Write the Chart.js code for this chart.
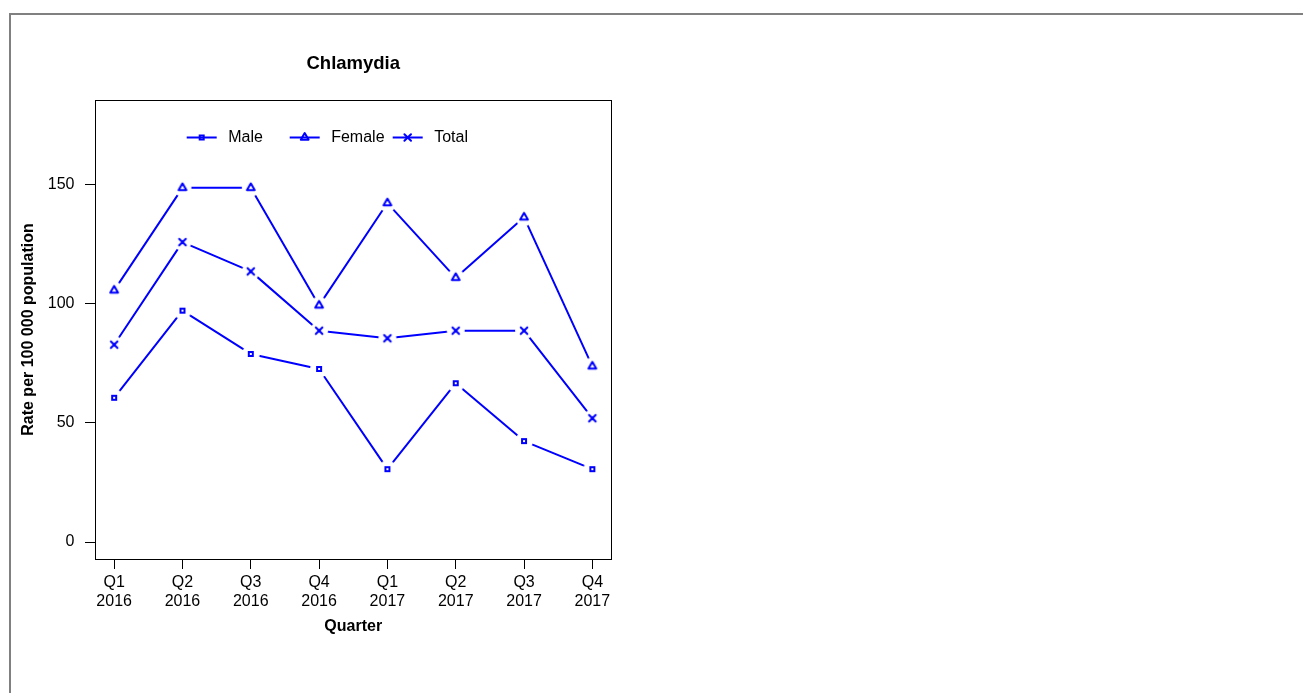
<!DOCTYPE html>
<html>
<head>
<meta charset="utf-8">
<script src="https://cdn.jsdelivr.net/npm/chart.js@4"></script>
<style>
html,body{margin:0;padding:0;background:#fff;overflow:hidden;}
#frame{position:absolute;left:9px;top:13px;width:2000px;height:2000px;border-left:2px solid #808080;border-top:2px solid #808080;}
#c{position:absolute;left:0;top:0;}
</style>
</head>
<body>
<div id="frame"></div>
<canvas id="c" width="707" height="693" style="width:707px;height:693px"></canvas>
<script>
const quarters = ['Q1', 'Q2', 'Q3', 'Q4', 'Q1', 'Q2', 'Q3', 'Q4'];
const years = ['2016', '2016', '2016', '2016', '2017', '2017', '2017', '2017'];
const male = [60.6, 97.2, 79.0, 72.7, 30.6, 66.7, 42.4, 30.6];
const female = [105.7, 148.8, 148.8, 99.4, 142.4, 111.0, 136.4, 73.8];
const total = [82.9, 126.0, 113.7, 88.8, 85.6, 88.8, 88.8, 52.0];
const yTicks = [0, 50, 100, 150];
const seriesNames = ['Male', 'Female', 'Total'];
const seriesMarkers = ['square', 'triangle', 'cross'];

const BLUE = '#0000ff';
const FONT = "'Liberation Sans', Arial, sans-serif";

function drawMarker(g, type, x, y) {
  g.save();
  g.strokeStyle = BLUE;
  g.lineWidth = 2;
  g.beginPath();
  if (type === 'square') {
    g.lineJoin = 'miter';
    g.rect(x - 2, y - 2, 4, 4);
  } else if (type === 'triangle') {
    g.lineJoin = 'round';
    const r = 4.5;
    g.moveTo(x, y - r);
    g.lineTo(x + 0.866 * r, y + r / 2);
    g.lineTo(x - 0.866 * r, y + r / 2);
    g.closePath();
  } else {
    g.lineCap = 'round';
    const d = 3.3;
    g.moveTo(x - d, y - d); g.lineTo(x + d, y + d);
    g.moveTo(x + d, y - d); g.lineTo(x - d, y + d);
  }
  g.stroke();
  g.restore();
}

function markerCanvas(type) {
  const c = document.createElement('canvas');
  c.width = 22; c.height = 22;
  const g = c.getContext('2d');
  g.fillStyle = '#fff';
  g.beginPath(); g.arc(11, 11, 9, 0, Math.PI * 2); g.fill();
  drawMarker(g, type, 11, 11);
  return c;
}

const seriesValues = [male, female, total];
const datasets = seriesValues.map((vals, s) => ({
  label: seriesNames[s],
  marker: seriesMarkers[s],
  data: vals.map((v, i) => ({x: i + 1, y: v})),
  borderColor: BLUE,
  borderWidth: 2,
  tension: 0,
  fill: false,
  borderCapStyle: 'round',
  borderJoinStyle: 'round',
  pointStyle: markerCanvas(seriesMarkers[s]),
  pointRadius: 9,
  pointHoverRadius: 9
}));

const boxPlugin = {
  id: 'box',
  afterDraw(chart) {
    const {ctx, chartArea: a} = chart;
    ctx.save();
    ctx.strokeStyle = '#000';
    ctx.lineWidth = 1;
    const l = Math.floor(a.left) + 0.5, t = Math.floor(a.top) + 0.5;
    const r = Math.floor(a.right) + 0.5, b = Math.floor(a.bottom) + 0.5;
    ctx.strokeRect(l, t, r - l, b - t);
    ctx.restore();
  }
};

const legendPlugin = {
  id: 'rlegend',
  afterDraw(chart) {
    const {ctx, chartArea: a} = chart;
    const y = a.top + 37.5;
    chart.data.datasets.forEach((ds, i) => {
      const x0 = a.left + 91.7 + 103 * i;
      ctx.save();
      ctx.strokeStyle = ds.borderColor;
      ctx.lineWidth = 2;
      ctx.beginPath(); ctx.moveTo(x0, y); ctx.lineTo(x0 + 30, y); ctx.stroke();
      drawMarker(ctx, ds.marker, x0 + 15, y);
      ctx.fillStyle = '#000';
      ctx.font = '16px ' + FONT;
      ctx.textBaseline = 'middle';
      ctx.textAlign = 'left';
      ctx.fillText(ds.label, x0 + 41.5, y);
      ctx.restore();
    });
  }
};

new Chart(document.getElementById('c'), {
  type: 'line',
  data: {datasets},
  plugins: [boxPlugin, legendPlugin],
  options: {
    responsive: false,
    animation: false,
    events: [],
    layout: {padding: {left: 0, right: 95.5, top: 0, bottom: 0}},
    plugins: {
      legend: {display: false},
      tooltip: {enabled: false},
      title: {
        display: true,
        text: 'Chlamydia',
        fullSize: false,
        color: '#000',
        font: {family: FONT, size: 18.5, weight: 'bold'},
        padding: {top: 52.4, bottom: 25.4}
      }
    },
    scales: {
      x: {
        type: 'linear',
        min: 0.72,
        max: 8.28,
        afterBuildTicks: s => { s.ticks = quarters.map((q, i) => ({value: i + 1})); },
        afterFit: s => { s.height = 134; },
        ticks: {
          autoSkip: false,
          maxRotation: 0,
          minRotation: 0,
          padding: 4,
          color: '#000',
          font: {family: FONT, size: 16},
          callback: (v, i) => [quarters[i], years[i]]
        },
        grid: {display: true, drawOnChartArea: false, drawTicks: true, tickLength: 10, color: '#000', lineWidth: 1},
        border: {display: false},
        title: {
          display: true,
          text: 'Quarter',
          color: '#000',
          font: {family: FONT, size: 16, weight: 'bold'},
          padding: {top: 0, bottom: 56.4}
        }
      },
      y: {
        type: 'linear',
        min: -7.14,
        max: 185.7,
        afterBuildTicks: s => { s.ticks = yTicks.map(v => ({value: v})); },
        afterFit: s => { s.width = 95; },
        ticks: {
          padding: 10.5,
          color: '#000',
          font: {family: FONT, size: 16}
        },
        grid: {display: true, drawOnChartArea: false, drawTicks: true, tickLength: 10, color: '#000', lineWidth: 1},
        border: {display: false},
        title: {
          display: true,
          text: 'Rate per 100 000 population',
          color: '#000',
          font: {family: FONT, size: 16, weight: 'bold'},
          padding: {top: 18.9, bottom: 0}
        }
      }
    }
  }
});
</script>
</body>
</html>
